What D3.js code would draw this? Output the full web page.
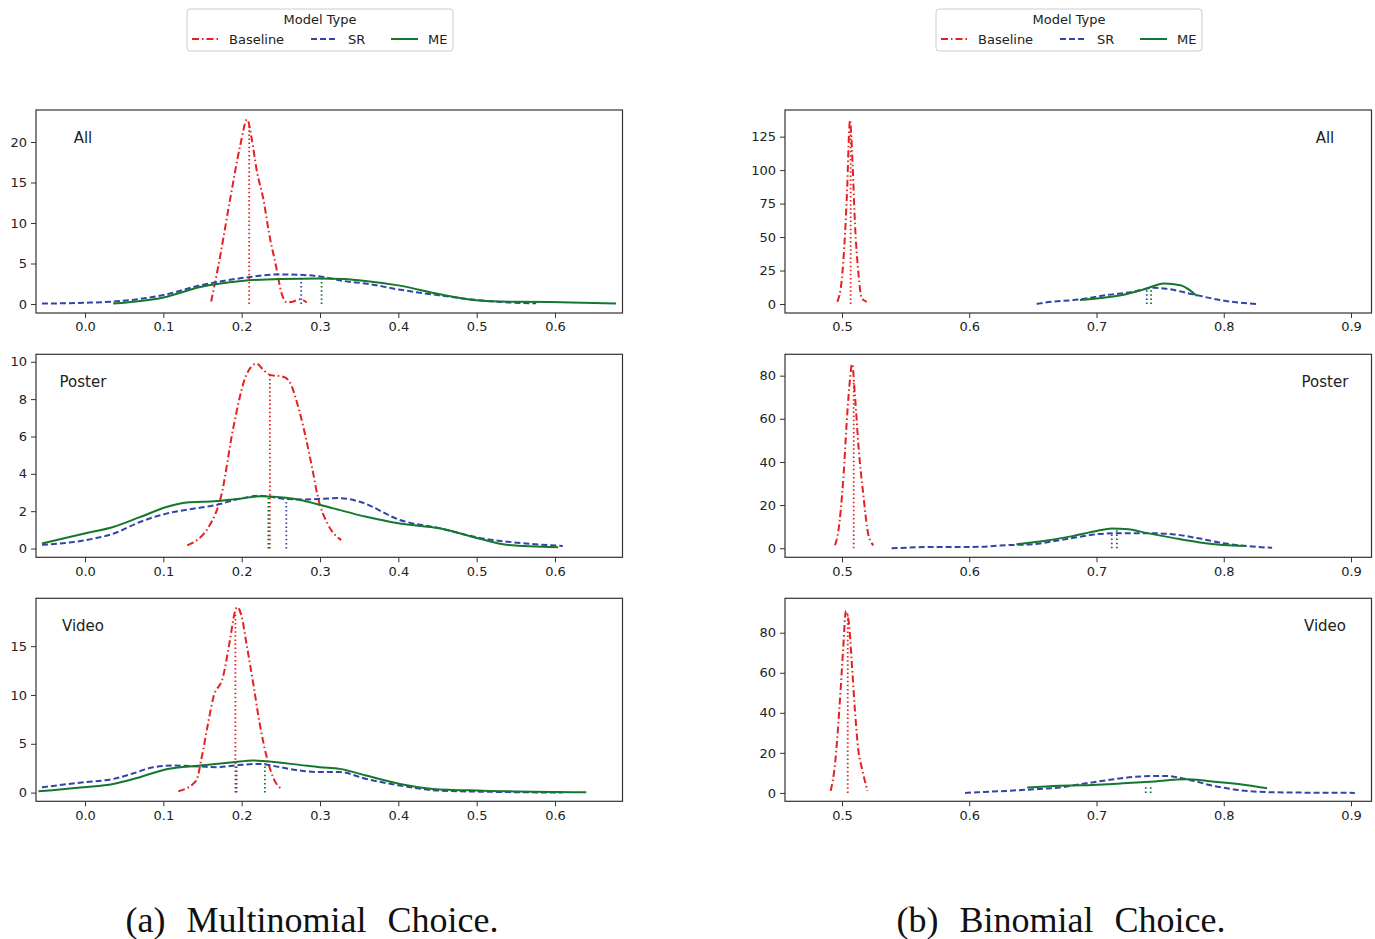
<!DOCTYPE html>
<html>
<head>
<meta charset="utf-8">
<script src="https://cdn.jsdelivr.net/npm/d3@7"></script>
<style>
  body { margin: 0; background: #fff; }
  text { font-family: "DejaVu Sans", sans-serif; fill: #222; }
  .caption { font-family: "Liberation Serif", "Times New Roman", serif; fill: #111; }
</style>
</head>
<body>
<svg id="chart" width="1375" height="939"></svg>
<script>
// ---- data ----
const seriesNames = ["Baseline", "SR", "ME"];
const panelLabels = ["All", "Poster", "Video"];
const captions = ["(a) Multinomial Choice.", "(b) Binomial Choice."];

const multiXTicks = [0.0, 0.1, 0.2, 0.3, 0.4, 0.5, 0.6];
const binXTicks = [0.5, 0.6, 0.7, 0.8, 0.9];
const multiYTicks = [[0, 5, 10, 15, 20], [0, 2, 4, 6, 8, 10], [0, 5, 10, 15]];
const binYTicks = [[0, 25, 50, 75, 100, 125], [0, 20, 40, 60, 80], [0, 20, 40, 60, 80]];

// density curves, [x, density]
const multiAllBaseline = [[0.161,0.3],[0.170,4.6],[0.185,12.8],[0.198,19.5],[0.207,22.8],[0.213,20.3],[0.219,16.6],[0.228,12.8],[0.235,8.7],[0.244,4.6],[0.251,1.3],[0.258,0.2],[0.266,0.3],[0.274,0.6],[0.283,0.2]];
const multiAllSR = [[-0.055,0.05],[0.0,0.15],[0.036,0.3],[0.1,1.1],[0.147,2.3],[0.2,3.2],[0.249,3.65],[0.275,3.6],[0.3,3.4],[0.33,2.85],[0.36,2.5],[0.4,1.8],[0.45,1.1],[0.5,0.5],[0.54,0.2],[0.576,0.08]];
const multiAllME = [[0.036,0.05],[0.1,0.8],[0.147,2.1],[0.2,2.85],[0.25,3.1],[0.3,3.15],[0.33,3.08],[0.358,2.85],[0.4,2.3],[0.453,1.2],[0.495,0.5],[0.53,0.3],[0.593,0.25],[0.678,0.05]];
const multiAllMeans = [[0.2096,22.2],[0.276,3.6],[0.302,3.15]];

const multiPosterBaseline = [[0.1305,0.17],[0.159,1.24],[0.174,2.85],[0.189,6.4],[0.206,9.3],[0.219,9.9],[0.227,9.6],[0.236,9.3],[0.253,9.2],[0.2615,8.9],[0.274,7.3],[0.291,4.1],[0.297,2.8],[0.31,1.3],[0.327,0.45]];
const multiPosterSR = [[-0.055,0.2],[-0.002,0.43],[0.036,0.79],[0.07,1.42],[0.104,1.87],[0.138,2.13],[0.164,2.3],[0.198,2.67],[0.223,2.83],[0.257,2.65],[0.28,2.63],[0.325,2.7],[0.351,2.5],[0.402,1.53],[0.453,1.08],[0.504,0.57],[0.563,0.27],[0.61,0.14]];
const multiPosterME = [[-0.055,0.27],[-0.002,0.79],[0.036,1.15],[0.07,1.68],[0.104,2.22],[0.13,2.46],[0.164,2.53],[0.198,2.67],[0.223,2.8],[0.257,2.72],[0.28,2.55],[0.317,2.15],[0.359,1.7],[0.402,1.34],[0.453,1.08],[0.504,0.52],[0.538,0.2],[0.604,0.07]];
const multiPosterMeans = [[0.236,9.3],[0.257,2.65],[0.234,2.8]];

const multiVideoBaseline = [[0.119,0.13],[0.142,1.23],[0.149,3.63],[0.157,7.06],[0.164,9.8],[0.176,11.8],[0.185,15.6],[0.191,18.4],[0.194,19.0],[0.1998,18.1],[0.206,15.3],[0.2147,11.2],[0.223,7.06],[0.232,3.63],[0.242,1.23],[0.251,0.38]];
const multiVideoSR = [[-0.055,0.55],[-0.002,1.06],[0.036,1.4],[0.062,1.98],[0.087,2.6],[0.113,2.77],[0.147,2.67],[0.168,2.6],[0.198,2.84],[0.223,2.94],[0.249,2.6],[0.274,2.26],[0.3,2.1],[0.325,2.1],[0.359,1.4],[0.402,0.72],[0.453,0.2],[0.504,0.1],[0.61,0.0]];
const multiVideoME = [[-0.0595,0.13],[-0.002,0.55],[0.036,0.89],[0.07,1.58],[0.104,2.4],[0.147,2.77],[0.189,3.1],[0.2147,3.29],[0.232,3.2],[0.274,2.84],[0.3,2.6],[0.325,2.43],[0.359,1.75],[0.402,0.89],[0.444,0.38],[0.508,0.2],[0.64,0.03]];
const multiVideoMeans = [[0.192,18.4],[0.1935,2.85],[0.2296,3.0]];

const binAllBaseline = [[0.4963,1.7],[0.4998,18],[0.5024,52.8],[0.5042,90],[0.5055,127],[0.5063,137.5],[0.5072,127],[0.5084,102.5],[0.5102,60],[0.5129,23],[0.5155,4.2],[0.5194,1.7]];
const binAllSR = [[0.653,0],[0.6556,0.5],[0.687,3.5],[0.708,6.7],[0.729,9.2],[0.745,12.2],[0.755,11.4],[0.776,7.2],[0.797,3.0],[0.813,1.0],[0.827,0]];
const binAllME = [[0.687,3.0],[0.71,5.2],[0.724,7.5],[0.739,11.5],[0.753,15.4],[0.766,14.0],[0.779,6.0]];
const binAllMeans = [[0.5068,130],[0.7395,11.5],[0.7429,11.5]];

const binPosterBaseline = [[0.4945,1.4],[0.497,7.5],[0.501,32],[0.5042,63],[0.5063,78.5],[0.5079,85.4],[0.5102,70.7],[0.5129,47.6],[0.5168,24.5],[0.5208,6],[0.5247,1.4]];
const binPosterSR = [[0.539,0],[0.577,0.6],[0.603,0.6],[0.629,1.4],[0.65,1.9],[0.68,4.6],[0.7,6.5],[0.72,7.0],[0.74,7.0],[0.76,6.5],[0.78,4.6],[0.8,2.3],[0.82,0.9],[0.838,0.2]];
const binPosterME = [[0.637,1.85],[0.66,3.5],[0.68,5.5],[0.7,8],[0.712,9.2],[0.725,8.8],[0.74,7],[0.76,4.8],[0.78,2.8],[0.8,1.5],[0.817,1.0]];
const binPosterMeans = [[0.5092,78],[0.712,7.2],[0.716,8.5]];

const binVideoBaseline = [[0.4911,1],[0.4945,14.3],[0.498,42.7],[0.501,72.7],[0.503,91],[0.5055,84.3],[0.5074,67.7],[0.51,42.7],[0.5129,21],[0.5155,12.7],[0.52,1]];
const binVideoSR = [[0.5967,0],[0.629,1],[0.6556,2],[0.671,2.7],[0.687,4.3],[0.708,6.3],[0.734,8.2],[0.755,8.5],[0.771,6.8],[0.792,3.5],[0.813,1.3],[0.839,0.3],[0.903,0]];
const binVideoME = [[0.6455,2.7],[0.671,3.6],[0.687,3.8],[0.721,4.8],[0.742,5.6],[0.771,6.8],[0.787,6.0],[0.813,4.3],[0.834,2.3]];
const binVideoMeans = [[0.5045,90],[0.7387,3.4],[0.7426,3.4]];

// ---- styling / layout ----
const colors = ["#e6201f", "#3543a8", "#13782c"];
const dashes = ["7,3,1.5,3", "6,3", null];
const colX = [36, 785];
const panelW = 586.5;
const rowY = [110, 354.3, 598.3];
const panelH = 203;

const svg = d3.select("#chart");

const columns = [
  {
    xDomain: [-0.0626, 0.6862], xTicks: multiXTicks, yTicks: multiYTicks,
    yDomains: [[-1.11, 23.95], [-0.47, 10.4], [-0.89, 19.9]],
    labelX: 83,
    panels: [
      [multiAllBaseline, multiAllSR, multiAllME, multiAllMeans],
      [multiPosterBaseline, multiPosterSR, multiPosterME, multiPosterMeans],
      [multiVideoBaseline, multiVideoSR, multiVideoME, multiVideoMeans],
    ],
  },
  {
    xDomain: [0.4552, 0.9161], xTicks: binXTicks, yTicks: binYTicks,
    yDomains: [[-6.7, 144.9], [-4.2, 89.9], [-4.2, 97.2]],
    labelX: 1325,
    panels: [
      [binAllBaseline, binAllSR, binAllME, binAllMeans],
      [binPosterBaseline, binPosterSR, binPosterME, binPosterMeans],
      [binVideoBaseline, binVideoSR, binVideoME, binVideoMeans],
    ],
  },
];

columns.forEach((col, ci) => {
  const x = d3.scaleLinear().domain(col.xDomain).range([colX[ci], colX[ci] + panelW]);

  col.panels.forEach((p, ri) => {
    const y = d3.scaleLinear().domain(col.yDomains[ri]).range([rowY[ri] + panelH, rowY[ri]]);
    const g = svg.append("g");

    // curves
    const line = d3.line().x(d => x(d[0])).y(d => y(d[1])).curve(d3.curveMonotoneX);
    [0, 1, 2].forEach(si => {
      g.append("path")
        .attr("d", line(p[si]))
        .attr("fill", "none")
        .attr("stroke", colors[si])
        .attr("stroke-width", 2)
        .attr("stroke-dasharray", dashes[si]);
    });

    // mean markers
    g.selectAll(".mean").data(p[3]).enter()
      .append("line")
      .attr("x1", d => x(d[0]))
      .attr("x2", d => x(d[0]))
      .attr("y1", y(0))
      .attr("y2", d => y(d[1]))
      .attr("stroke", (d, i) => colors[i])
      .attr("stroke-width", 1.8)
      .attr("stroke-dasharray", "1.5,2.6");

    // axes
    g.append("g")
      .attr("transform", `translate(0,${rowY[ri] + panelH})`)
      .call(d3.axisBottom(x).tickValues(col.xTicks).tickFormat(d3.format(".1f")).tickSize(5).tickPadding(4))
      .call(a => a.select(".domain").remove());
    g.append("g")
      .attr("transform", `translate(${colX[ci]},0)`)
      .call(d3.axisLeft(y).tickValues(col.yTicks[ri]).tickSize(5).tickPadding(4))
      .call(a => a.select(".domain").remove());
    g.selectAll(".tick text").attr("font-size", 13).attr("font-family", "DejaVu Sans").attr("fill", "#222");
    g.selectAll(".tick line").attr("stroke", "#333").attr("stroke-width", 1);

    // frame
    g.append("rect")
      .attr("x", colX[ci]).attr("y", rowY[ri])
      .attr("width", panelW).attr("height", panelH)
      .attr("fill", "none").attr("stroke", "#333").attr("stroke-width", 1.2);

    g.append("text")
      .attr("x", col.labelX).attr("y", rowY[ri] + 33)
      .attr("text-anchor", "middle")
      .attr("font-size", 15)
      .text(panelLabels[ri]);
  });

  // legend
  const lx = [187, 936][ci];
  const lg = svg.append("g").attr("transform", `translate(${lx},9)`);
  lg.append("rect").attr("width", 266).attr("height", 42).attr("rx", 3)
    .attr("fill", "#fff").attr("stroke", "#ccc").attr("stroke-width", 1);
  lg.append("text").attr("x", 133).attr("y", 15).attr("text-anchor", "middle")
    .attr("font-size", 13).text("Model Type");
  const entryX = [5, 124, 204];
  seriesNames.forEach((name, si) => {
    lg.append("line")
      .attr("x1", entryX[si]).attr("x2", entryX[si] + 27)
      .attr("y1", 30).attr("y2", 30)
      .attr("stroke", colors[si]).attr("stroke-width", 2)
      .attr("stroke-dasharray", dashes[si]);
    lg.append("text").attr("x", entryX[si] + 37).attr("y", 34.5)
      .attr("font-size", 13).text(name);
  });

  svg.append("text")
    .attr("class", "caption")
    .attr("x", [312, 1061][ci]).attr("y", 932)
    .attr("text-anchor", "middle")
    .attr("font-size", 36)
    .attr("word-spacing", 12)
    .text(captions[ci]);
});
</script>
</body>
</html>
